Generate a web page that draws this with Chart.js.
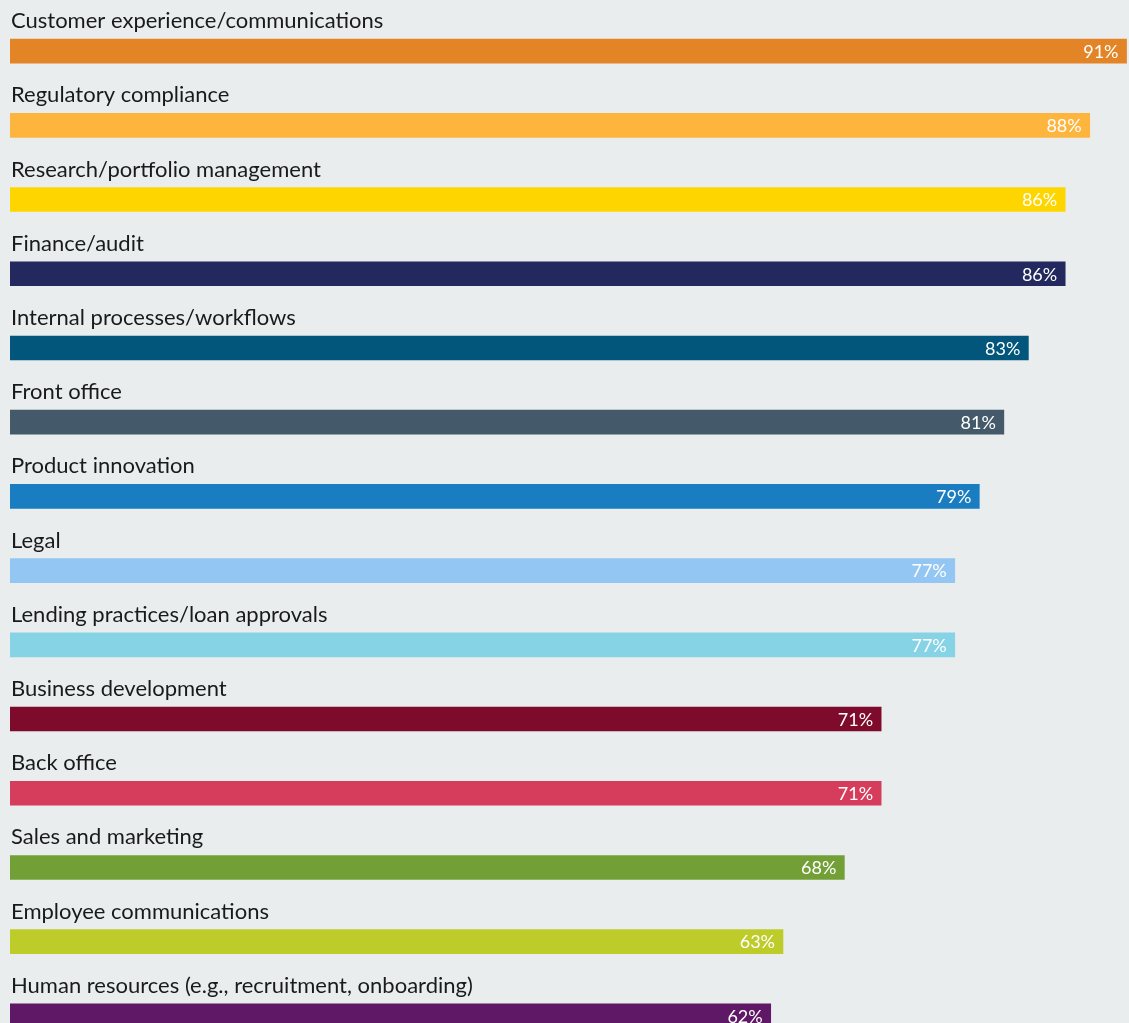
<!DOCTYPE html>
<html>
<head>
<meta charset="utf-8">
<script src="https://cdn.jsdelivr.net/npm/chart.js@4"></script>
<style>
html,body{margin:0;padding:0;background:#E9EDEE;overflow:hidden;}
#wrap{position:relative;width:1129px;height:1060px;}
</style>
</head>
<body>
<div id="wrap"><canvas id="c"></canvas></div>
<script>
const categories = [
  "Customer experience/communications",
  "Regulatory compliance",
  "Research/portfolio management",
  "Finance/audit",
  "Internal processes/workflows",
  "Front office",
  "Product innovation",
  "Legal",
  "Lending practices/loan approvals",
  "Business development",
  "Back office",
  "Sales and marketing",
  "Employee communications",
  "Human resources (e.g., recruitment, onboarding)"
];
const values = [91, 88, 86, 86, 83, 81, 79, 77, 77, 71, 71, 68, 63, 62];
const valueLabels = ["91%","88%","86%","86%","83%","81%","79%","77%","77%","71%","71%","68%","63%","62%"];
const colors = ["#E38526","#FDB53E","#FFD500","#23295E","#02567C","#445A6A","#1A7DC1","#93C6F2","#86D3E6","#7E0B2B","#D63D5C","#72A037","#BECC2A","#5E1866"];

const FONT = "Lato, 'Noto Sans', sans-serif";

const labelPlugin = {
  id: 'barLabels',
  afterDatasetsDraw(chart) {
    const ctx = chart.ctx;
    const meta = chart.getDatasetMeta(0);
    ctx.save();
    meta.data.forEach((bar, i) => {
      const top = bar.y - bar.height / 2;
      ctx.fillStyle = '#1a1a1a';
      ctx.font = "22px " + FONT;
      ctx.textAlign = 'left';
      ctx.textBaseline = 'alphabetic';
      ctx.fillText(categories[i], 11, top - 11);
      ctx.fillStyle = '#ffffff';
      ctx.font = "18px " + FONT;
      ctx.textAlign = 'right';
      ctx.textBaseline = 'middle';
      ctx.fillText(valueLabels[i], Math.min(bar.x, chart.width) - 8, bar.y + 1);
    });
    ctx.restore();
  }
};

new Chart(document.getElementById('c'), {
  type: 'bar',
  data: {
    labels: categories,
    datasets: [{
      data: values,
      backgroundColor: colors,
      borderWidth: 0,
      barThickness: 24
    }]
  },
  options: {
    indexAxis: 'y',
    responsive: true,
    maintainAspectRatio: false,
    animation: false,
    layout: { padding: { left: 10, right: 0, top: 14, bottom: 7 } },
    plugins: { legend: { display: false }, tooltip: { enabled: false } },
    scales: {
      x: { display: false, min: 0, max: 91.2 },
      y: { display: false, offset: true, grid: { display: false } }
    }
  },
  plugins: [labelPlugin]
});
</script>
</body>
</html>
